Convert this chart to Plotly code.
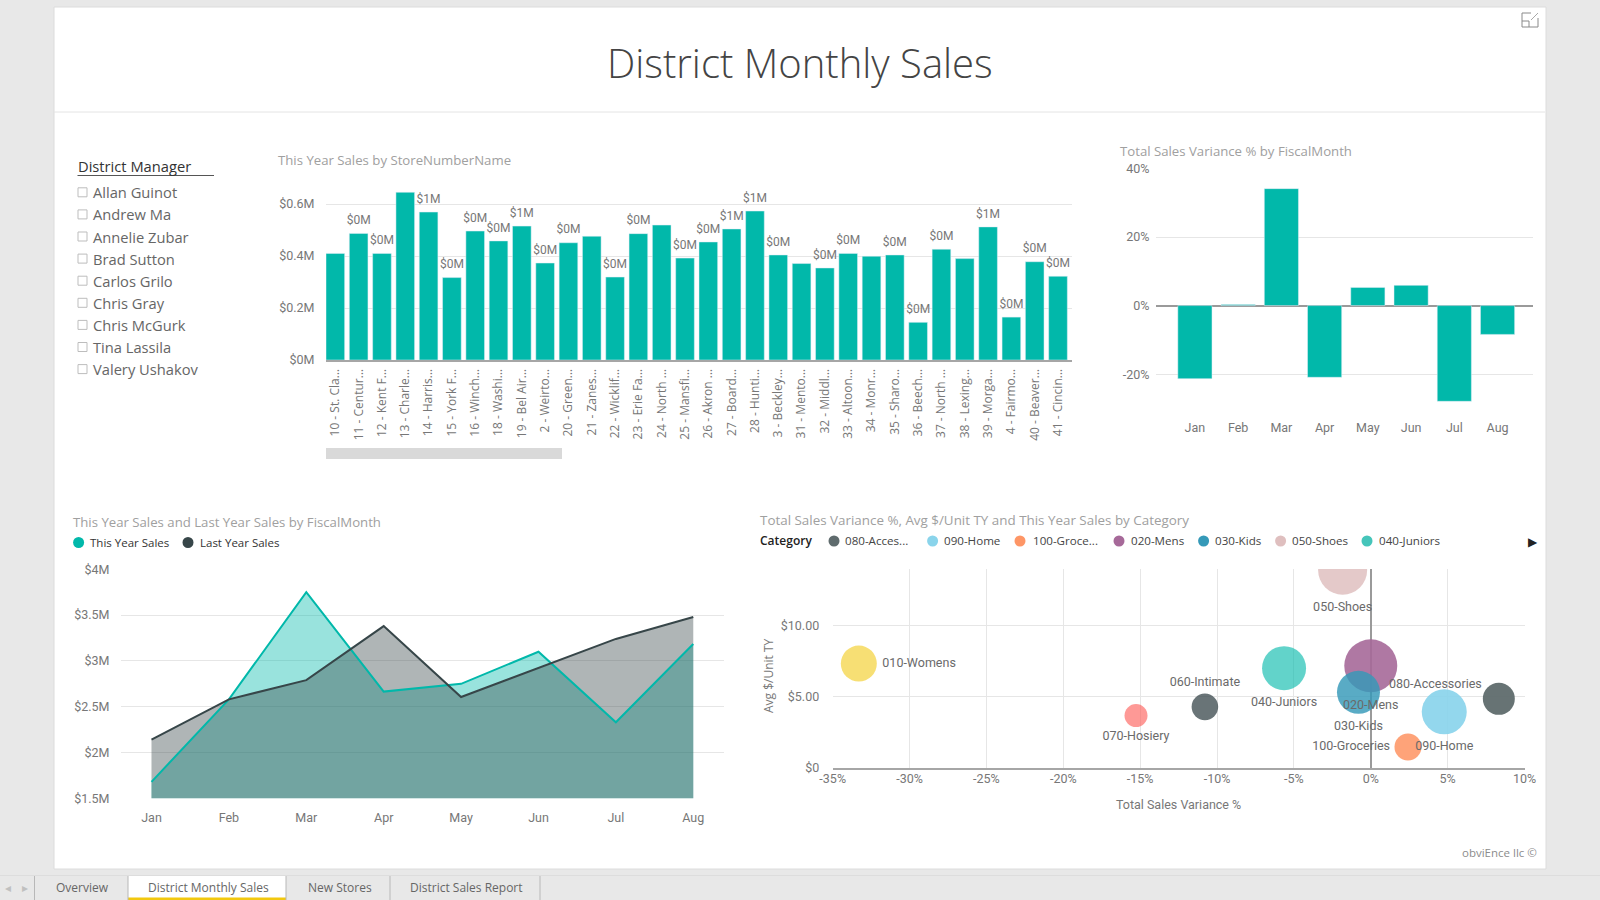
import plotly.graph_objects as go

# ---------- data ----------
stores = ["10 - St. Cla...", "11 - Centur...", "12 - Kent F...", "13 - Charle...", "14 - Harris...", "15 - York F...",
          "16 - Winch...", "18 - Washi...", "19 - Bel Air...", "2 - Weirto...", "20 - Green...", "21 - Zanes...",
          "22 - Wicklif...", "23 - Erie Fa...", "24 - North ...", "25 - Mansfi...", "26 - Akron ...", "27 - Board...",
          "28 - Hunti...", "3 - Beckley...", "31 - Mento...", "32 - Middl...", "33 - Altoon...", "34 - Monr...",
          "35 - Sharo...", "36 - Beech...", "37 - North ...", "38 - Lexing...", "39 - Morga...", "4 - Fairmo...",
          "40 - Beaver...", "41 - Cincin..."]
store_sales = [.410, .487, .410, .645, .569, .317, .496, .458, .515, .373, .451, .476, .319, .486, .519, .392,
               .454, .504, .573, .404, .371, .354, .410, .399, .404, .145, .426, .390, .512, .165, .378, .322]
store_labels = ["", "$0M", "$0M", "", "$1M", "$0M", "$0M", "$0M", "$1M", "$0M", "$0M", "", "$0M", "$0M", "", "$0M",
                "$0M", "$1M", "$1M", "$0M", "", "$0M", "$0M", "", "$0M", "$0M", "$0M", "", "$1M", "$0M", "$0M", "$0M"]
months = ["Jan", "Feb", "Mar", "Apr", "May", "Jun", "Jul", "Aug"]
variance_pct = [-21.3, 0.3, 34.1, -20.9, 5.3, 5.9, -27.9, -8.4]
this_year = [1.68, 2.58, 3.75, 2.665, 2.75, 3.10, 2.33, 3.185]
last_year = [2.14, 2.58, 2.79, 3.38, 2.606, 2.92, 3.24, 3.48]
categories = ["010-Womens", "070-Hosiery", "060-Intimate", "040-Juniors", "020-Mens", "030-Kids", "050-Shoes",
              "090-Home", "100-Groceries", "080-Accessories"]
cat_variance = [-33.3, -15.27, -10.79, -5.64, 0.0, -0.8, -1.83, 4.78, 2.42, 8.33]
cat_avg_unit = [7.31, 3.67, 4.28, 6.99, 7.15, 5.30, 13.85, 3.93, 1.47, 4.84]
cat_sales_size = [36, 23, 26.6, 44, 53, 43, 49, 45, 27, 32]
cat_colors = ["rgba(242,200,15,0.58)", "rgba(253,98,94,0.65)", "rgba(55,70,73,0.75)", "rgba(1,184,170,0.62)",
              "rgba(166,105,153,0.9)", "rgba(53,153,184,0.82)", "rgba(223,191,191,0.85)", "rgba(138,212,235,0.92)",
              "rgba(254,150,102,0.88)", "rgba(95,107,109,0.95)"]
cat_positions = ["middle right", "bottom center", "top center", "bottom center", "bottom center", "bottom center",
                 "bottom center", "bottom center", "middle left", "top left"]
managers = ["Allan Guinot", "Andrew Ma", "Annelie Zubar", "Brad Sutton", "Carlos Grilo", "Chris Gray", "Chris McGurk",
            "Tina Lassila", "Valery Ushakov"]
legend_cats = ["080-Acces...", "090-Home", "100-Groce...", "020-Mens", "030-Kids", "050-Shoes", "040-Juniors"]
legend_cat_colors = ["#5F6B6D", "#8AD4EB", "#FE9666", "#A66999", "#3599B8", "#DFBFBF", "#45C5BA"]
tabs = ["Overview", "District Monthly Sales", "New Stores", "District Sales Report"]

# ---------- style ----------
TEAL, DARK = "#01B8AA", "#374649"
GRID, AXIS, TICK, HEAD = "#e6e6e6", "#a6a6a6", "#777777", "#a0a0a0"
DIN, SEGOE = "Roboto", "Open Sans"


def px(x):
    return x / 1600


def py(y):
    return 1 - y / 900


def dom(a, b):
    return [px(a), px(b)]


def ydom(top, bottom):
    return [py(bottom), py(top)]


annotations, shapes = [], []


def text(x, y, s, size=12, color=TICK, font=SEGOE, anchor="left", weight=None, angle=0):
    f = dict(size=size, color=color, family=font)
    if weight:
        f["weight"] = weight
    annotations.append(dict(x=px(x), y=py(y), xref="paper", yref="paper", text=s, showarrow=False, textangle=angle,
                            xanchor=anchor, yanchor="middle", font=f, borderpad=0))


def rect(x0, y0, x1, y1, fill, line=None, kind="rect", layer="below"):
    shapes.append(dict(type=kind, xref="paper", yref="paper", x0=px(x0), x1=px(x1), y0=py(y0), y1=py(y1),
                       fillcolor=fill, line=dict(color=line or "rgba(0,0,0,0)", width=1), layer=layer))


def seg(x0, y0, x1, y1, color, width=1):
    shapes.append(dict(type="line", xref="paper", yref="paper", x0=px(x0), x1=px(x1), y0=py(y0), y1=py(y1),
                       line=dict(color=color, width=width), layer="below"))


# ---------- page chrome ----------
rect(54, 7, 1546, 869, "#ffffff", "#dcdcdc")
seg(54, 112, 1545, 112, "#e4e4e4")
text(800, 62, "District Monthly Sales", size=40, color="#444444", anchor="center", weight=300)
# focus icon
seg(1522, 13, 1531, 13, "#8a8a8a")
seg(1522, 13, 1522, 27, "#8a8a8a")
seg(1522, 27, 1538, 27, "#8a8a8a")
seg(1538, 27, 1538, 18, "#8a8a8a")
seg(1522, 21, 1529, 21, "#8a8a8a")
seg(1529, 21, 1529, 27, "#8a8a8a")
seg(1531, 20, 1538, 13, "#a8a8a8")
text(1538, 852.5, "obviEnce llc ©", size=11.5, color="#8c8c8c", anchor="right")

# tab strip
seg(0, 875.5, 1600, 875.5, "#dddddd")
rect(128, 876, 286, 900, "#ffffff")
rect(128, 897.5, 286, 900, "#F2C80F")
for sx in [34.5, 128, 286, 390, 540]:
    seg(sx, 876, sx, 900, "#b8b8b8")
for tab, cx in zip(tabs, [82, 208, 340, 466]):
    text(cx, 887, tab, size=12, color="#666666", anchor="center")
text(8, 887, "◂", size=12, color="#c0c0c0", anchor="center")
text(25, 887, "▸", size=12, color="#c0c0c0", anchor="center")

# slicer
text(76.5, 166, "District Manager", size=14.7, color="#333333")
seg(77.5, 175.5, 214, 175.5, "#555555")
for i, name in enumerate(managers):
    yy = 192.3 + i * 22.1
    rect(78, yy - 4.5, 87, yy + 4.5, "rgba(0,0,0,0)", "#bdbdbd")
    text(92, yy, name, size=14.7, color="#666666")

# visual titles
text(277, 160, "This Year Sales by StoreNumberName", size=13.2, color=HEAD)
text(1119, 151, "Total Sales Variance % by FiscalMonth", size=13.2, color=HEAD)
text(72, 522, "This Year Sales and Last Year Sales by FiscalMonth", size=13.2, color=HEAD)
text(759, 520, "Total Sales Variance %, Avg $/Unit TY and This Year Sales by Category", size=13.4, color=HEAD)

# store scrollbar
rect(326, 448, 562, 459, "#d9d9d9")

# line chart legend
for cx, tx, color, label in [(78.6, 89, TEAL, "This Year Sales"), (188, 199, DARK, "Last Year Sales")]:
    rect(cx - 5.5, 537, cx + 5.5, 548, color, kind="circle")
    text(tx, 542, label, size=11.5, color="#333333")

# bubble legend
text(759, 540, "Category", size=12, color="#222222", weight=600)
for label, color, cx, tx in zip(legend_cats, legend_cat_colors,
                                [834, 932.6, 1020, 1119, 1203.6, 1280.6, 1367],
                                [844, 943, 1031.6, 1129.6, 1213.8, 1290.8, 1378]):
    rect(cx - 5.5, 535.5, cx + 5.5, 546.5, color, kind="circle")
    text(tx, 540, label, size=11.6, color="#444444")
text(1533, 541, "▶", size=12, color="#222222", anchor="center")
text(768, 676, "Avg $/Unit TY", size=12, color=TICK, anchor="center", angle=-90)

# accessory bubble's label sits beside and above its bubble, offset through the data axes
annotations.append(dict(x=cat_variance[-1], y=cat_avg_unit[-1], xref="x4", yref="y4", text=categories[-1],
                        showarrow=False, xshift=-63, yshift=15, font=dict(family=DIN, size=12.5, color="#6a6a6a")))
point_labels = categories[:-1] + [""]

# ---------- traces ----------
fig = go.Figure()
fig.add_trace(go.Bar(x=stores, y=store_sales, xaxis="x", yaxis="y", marker_color=TEAL, showlegend=False))
fig.add_trace(go.Scatter(x=stores, y=[v + 0.024 for v in store_sales], xaxis="x", yaxis="y", mode="text",
                         text=store_labels, textposition="top center", cliponaxis=False,
                         textfont=dict(family=DIN, size=12, color=TICK), showlegend=False))
fig.add_trace(go.Bar(x=months, y=variance_pct, xaxis="x2", yaxis="y2", marker_color=TEAL, width=0.79,
                     showlegend=False))
fig.add_trace(go.Scatter(x=months, y=this_year, xaxis="x3", yaxis="y3", mode="none", fill="tozeroy",
                         fillcolor="rgba(1,184,170,0.4)", showlegend=False))
fig.add_trace(go.Scatter(x=months, y=last_year, xaxis="x3", yaxis="y3", mode="none", fill="tozeroy",
                         fillcolor="rgba(55,70,73,0.4)", showlegend=False))
fig.add_trace(go.Scatter(x=months, y=this_year, xaxis="x3", yaxis="y3", mode="lines",
                         line=dict(color=TEAL, width=2), name="This Year Sales", showlegend=False))
fig.add_trace(go.Scatter(x=months, y=last_year, xaxis="x3", yaxis="y3", mode="lines",
                         line=dict(color=DARK, width=2), name="Last Year Sales", showlegend=False))
fig.add_trace(go.Scatter(x=cat_variance, y=cat_avg_unit, xaxis="x4", yaxis="y4", mode="markers+text",
                         text=point_labels, textposition=cat_positions,
                         textfont=dict(family=DIN, size=12.5, color="#6a6a6a"),
                         marker=dict(size=cat_sales_size, sizemode="diameter", color=cat_colors, opacity=1,
                                     line=dict(width=0)),
                         showlegend=False))

tickfont = dict(family=DIN, size=12.5, color=TICK)
clear = "rgba(0,0,0,0)"
fig.update_layout(
    width=1600, height=900, autosize=False,
    margin=dict(l=0, r=0, t=0, b=0, pad=0, autoexpand=False),
    paper_bgcolor="#e8e8e8", plot_bgcolor=clear,
    bargap=0.2, annotations=annotations, shapes=shapes,
    font=dict(family=SEGOE),
    xaxis=dict(domain=dom(326, 1072), anchor="y", range=[-0.4, 31.6], type="category", tickangle=-90, showgrid=False,
               showline=True, linecolor=AXIS, linewidth=2, ticks="outside", ticklen=2, tickcolor=clear,
               tickfont=dict(family=SEGOE, size=12, color=TICK), tickmode="array", tickvals=stores, ticktext=stores),
    yaxis=dict(domain=ydom(188.4, 360), anchor="x", range=[0, 0.66], tickvals=[0, .2, .4, .6],
               ticktext=["$0M", "$0.2M", "$0.4M", "$0.6M"], gridcolor=GRID, zeroline=False, tickfont=tickfont,
               ticks="outside", ticklen=8, tickcolor=clear),
    xaxis2=dict(domain=dom(1156, 1533), anchor="y2", type="category", range=[-0.9, 7.82], showgrid=False,
                ticks="outside", ticklen=7, tickcolor=clear, tickfont=tickfont, showline=False),
    yaxis2=dict(domain=ydom(168.4, 408.5), anchor="x2", range=[-30, 40], tickvals=[-20, 0, 20, 40],
                ticktext=["-20%", "0%", "20%", "40%"], gridcolor=GRID, zeroline=True, zerolinecolor="#9a9a9a",
                zerolinewidth=1.5, tickfont=tickfont, ticks="outside", ticklen=3, tickcolor=clear),
    xaxis3=dict(domain=dom(121, 724), anchor="y3", type="category", range=[-0.394, 7.397], showgrid=False,
                ticks="outside", ticklen=8, tickcolor=clear, tickfont=tickfont),
    yaxis3=dict(domain=ydom(569.3, 798.3), anchor="x3", range=[1.5, 4], tickvals=[1.5, 2, 2.5, 3, 3.5, 4],
                ticktext=["$1.5M", "$2M", "$2.5M", "$3M", "$3.5M", "$4M"], gridcolor=GRID, zeroline=False,
                tickfont=tickfont, ticks="outside", ticklen=8, tickcolor=clear),
    xaxis4=dict(domain=dom(832.7, 1524.5), anchor="y4", range=[-35, 10], tickvals=list(range(-35, 11, 5)),
                ticktext=[f"{v}%" for v in range(-35, 11, 5)], gridcolor=GRID, zeroline=True, zerolinecolor="#9a9a9a",
                zerolinewidth=1.5, showline=True, linecolor=AXIS, linewidth=1.5, tickfont=tickfont, ticks="",
                ticklabelstandoff=-2,
                title=dict(text="Total Sales Variance %", font=dict(family=DIN, size=12.5, color=TICK), standoff=15)),
    yaxis4=dict(domain=ydom(569, 768), anchor="x4", range=[0, 13.93], tickvals=[0, 5, 10],
                ticktext=["$0", "$5.00", "$10.00"], gridcolor=GRID, zeroline=False, tickfont=tickfont, ticks="outside",
                ticklen=10, tickcolor=clear),
)

fig.write_html("out.html", config=dict(displayModeBar=False),
               post_script="document.body.style.margin='0';document.body.style.overflow='hidden';")
